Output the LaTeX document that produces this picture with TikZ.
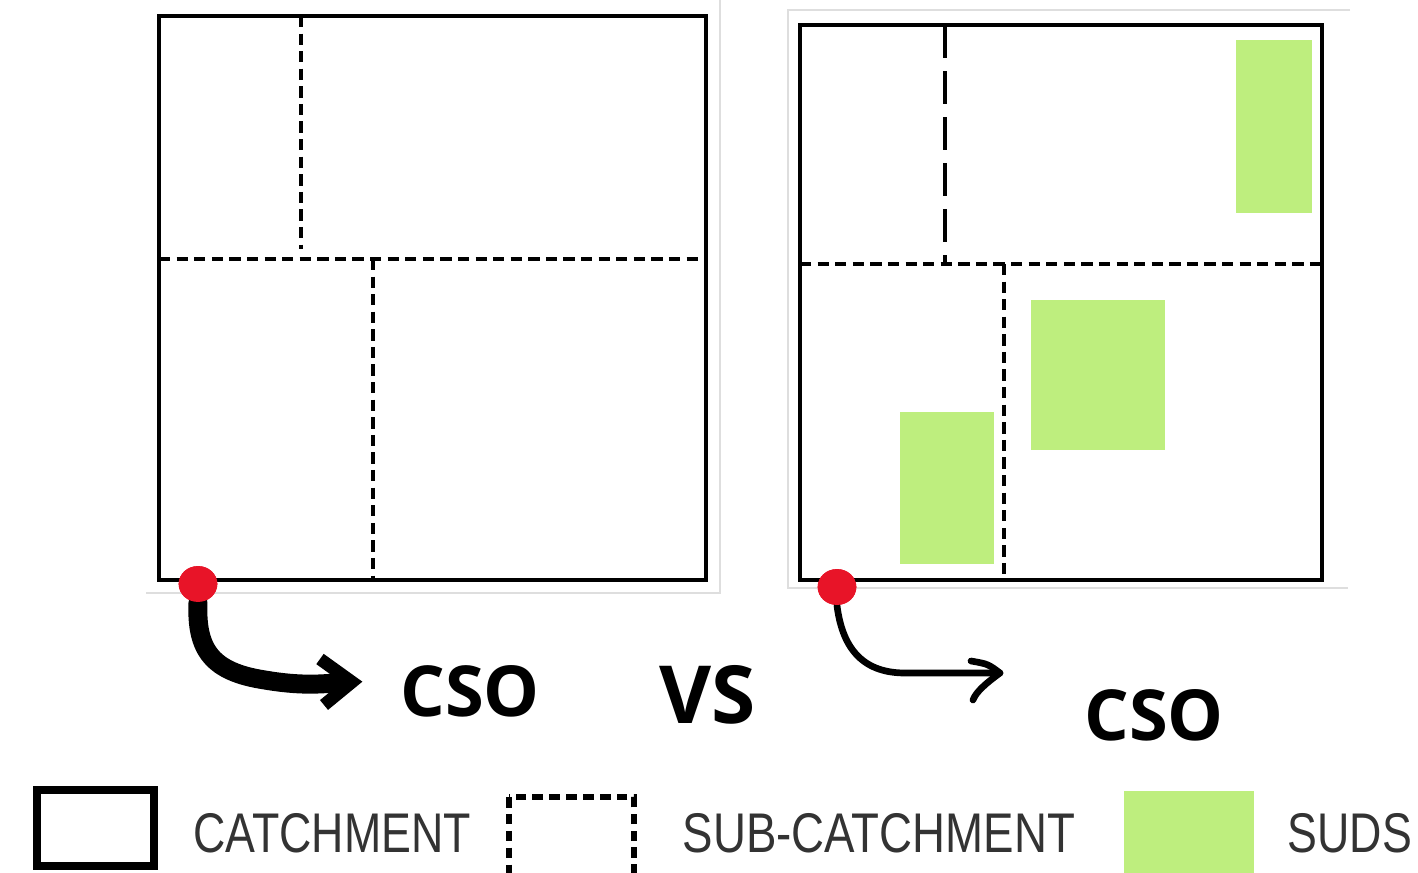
\documentclass[tikz,border=0pt]{standalone}
\usepackage{fontspec}
\usetikzlibrary{shapes.geometric}
\newfontfamily\bigfont{Open Sans}
\newfontfamily\legfont[FakeStretch=0.8]{Liberation Sans}
\definecolor{sudsgreen}{RGB}{190,238,126}
\definecolor{csored}{RGB}{232,20,40}
\tikzset{
  catch/.style={draw=black, line width=1.2pt},
  subline/.style={line width=1.05pt, dash pattern=on 3.2pt off 1.8pt},
  longdash/.style={line width=1.1pt, dash pattern=on 9.4pt off 3.7pt},
  suds/.style={fill=sudsgreen},
  pframe/.style={draw=black!13, line width=0.35pt},
  outlet/.style={ellipse, fill=csored, minimum width=11pt, minimum height=10.2pt, inner sep=0pt},
  bigarrow/.style={line width=5.4pt, line cap=round},
  bighead/.style={line width=3.6pt, line join=miter},
  thinarrow/.style={line width=1.9pt, line cap=round, line join=round},
  bigtext/.style={font={\bigfont\bfseries\fontsize{20pt}{21pt}\selectfont}, inner sep=0pt, anchor=base},
  legtext/.style={font={\legfont\fontsize{15.9pt}{17pt}\selectfont}, text=black!80, inner sep=0pt, anchor=base}
}
\begin{document}
\begin{tikzpicture}[x=0.01cm, y=-0.01cm]
\useasboundingbox (0,0) rectangle (1418,873);
\clip (0,0) rectangle (1418,873);
\fill[white] (0,0) rectangle (1418,873);

% ---- left panel ----
\draw[pframe] (146,593) -- (720,593) -- (720,0);
\draw[subline] (301,16) -- (301,249);
\draw[subline] (159,259) -- (706,259);
\draw[subline] (373,259) -- (373,580);
\draw[catch] (159,16) rectangle (706,580);

% ---- right panel ----
\draw[pframe] (1350,10) -- (788,10) -- (788,588) -- (1348,588);
\fill[suds] (1236,40) rectangle (1312,213);
\fill[suds] (1031,300) rectangle (1165,450);
\fill[suds] (900,412) rectangle (994,564);
\draw[longdash] (945,25) -- (945,263);
\draw[subline] (800,264) -- (1322,264);
\draw[subline] (1004,264) -- (1004,580);
\draw[catch] (800,25) rectangle (1322,580);

% ---- outlets and arrows ----
\node[outlet] (dotL) at (198,584) {};
\node[outlet] (dotR) at (837,587) {};
\coordinate (endL) at (336,683);
\coordinate (tipL) at (352,682);
\coordinate (tipR) at (1000,673);

\draw[bigarrow] (dotL.south) .. controls (196,650) and (212,672) .. (265,680)
  .. controls (300,686) and (320,684) .. (endL);
\draw[bighead] (320,659) -- (tipL) -- (324,705);
\draw[thinarrow] (dotR.south) .. controls (842,645) and (860,673) .. (905,673) -- (tipR);
\draw[thinarrow] (971,661) .. controls (988,664) .. (tipR) .. controls (985,684) and (976,692) .. (973,700);
\node[outlet] at (dotL) {};
\node[outlet] at (dotR) {};

% ---- labels ----
\node[bigtext] (csoL) at (470,716) {CSO};
\node[bigtext, font={\bigfont\bfseries\fontsize{22.8pt}{24pt}\selectfont}] (vs) at (708,723) {VS};
\node[bigtext] (csoR) at (1154,740) {CSO};

% ---- legend ----
\draw[line width=2pt] (37,790) rectangle (154,866);
\node[legtext] (lcatch) at (332,852) {CATCHMENT};
\draw[line width=1.5pt, dash pattern=on 3pt off 1.8pt] (509,797) rectangle (634,900);
\node[legtext, xscale=1.02, transform shape] (lsub) at (879,852) {SUB-CATCHMENT};
\fill[suds] (1124,791) rectangle (1254,900);
\node[legtext, anchor=base west] (lsuds) at (1287,852) {SUDS};
\end{tikzpicture}
\end{document}
